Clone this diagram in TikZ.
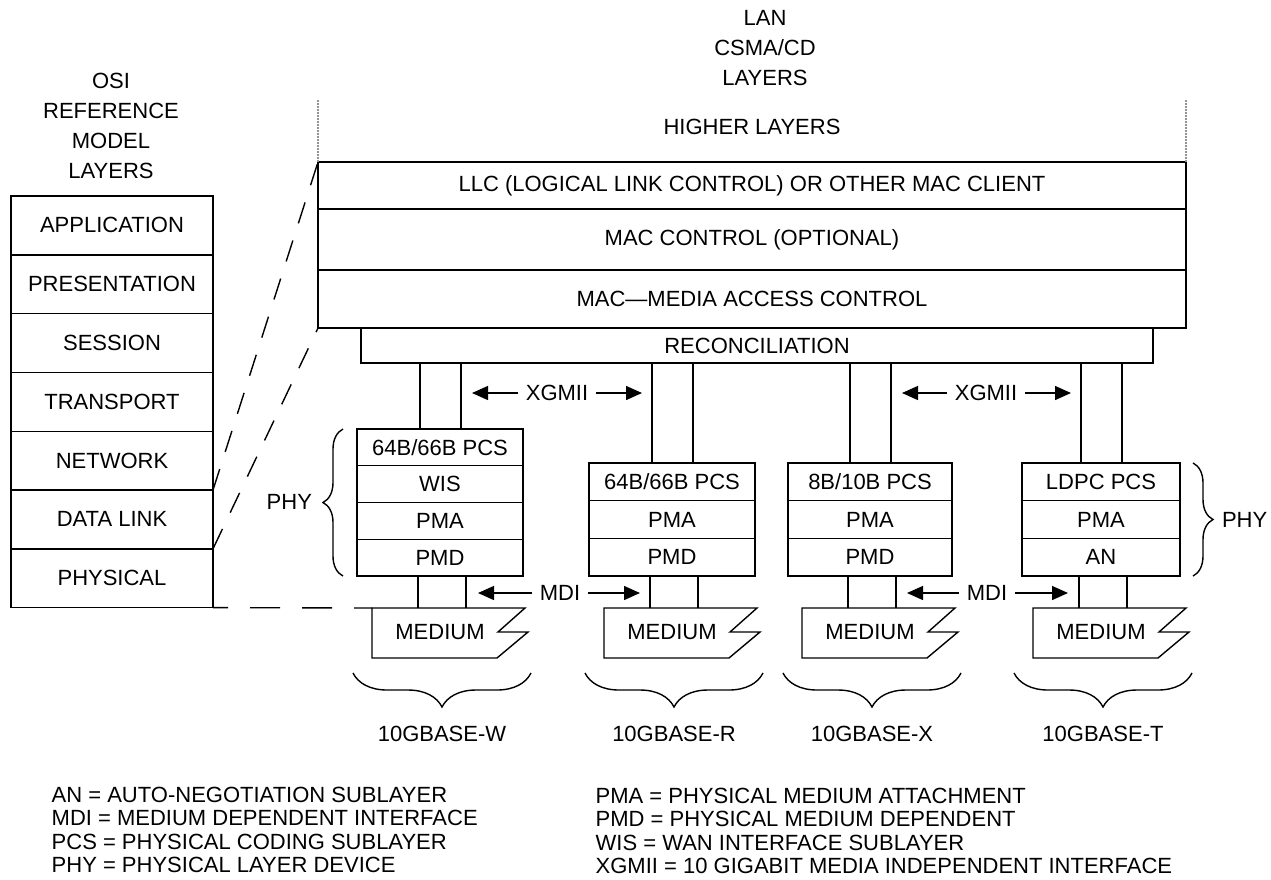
\documentclass[tikz,border=0pt]{standalone}
\usepackage{fontspec}
\setmainfont{Liberation Sans}
\usetikzlibrary{positioning,arrows.meta,decorations.pathreplacing}
\tikzset{
  lbl/.style={font=\fontsize{22}{26}\selectfont},
  head/.style={align=center, font=\fontsize{22}{30}\selectfont},
  osirow/.style={draw, lbl, minimum width=202pt, minimum height=58.8pt, inner sep=0pt, outer sep=0pt},
  lanrow/.style={draw, lbl, minimum width=868pt, inner sep=0pt, outer sep=0pt},
  phyrow/.style={draw, lbl, minimum width=166pt, minimum height=37.7pt, inner sep=0pt, outer sep=0pt},
  arr/.style={-{Triangle[length=16pt,width=14pt]}},
  brc/.style={decorate, decoration={brace, amplitude=#1}},
  osidash/.style={dash pattern=on 22pt off 18pt},
  hl/.style={gray!85, line width=2pt, dash pattern=on 2pt off 1pt},
  legend/.style={font=\fontsize{22}{26}\selectfont, anchor=west, inner sep=0pt},
}
\begin{document}
\begin{tikzpicture}[x=1pt, y=-1pt, line width=1.4pt]
\useasboundingbox (0,0) rectangle (1271,879);

% headings
\node[head] (osihead) at (111,126) {OSI\\REFERENCE\\MODEL\\LAYERS};
\node[head] (lanhead) at (765,48) {LAN\\CSMA/CD\\LAYERS};

% OSI stack
\foreach \lab [count=\i from 0] in {APPLICATION,PRESENTATION,SESSION,TRANSPORT,NETWORK,DATA LINK,PHYSICAL}
  \node[osirow] (osi\i) at (112,{225.4+58.8*\i}) {\lab};

% LAN stack
\node[lbl] (higher) at (752,127) {HIGHER LAYERS};
\node[lanrow, minimum height=47pt] (llc) at (752,185.5) {LLC (LOGICAL LINK CONTROL) OR OTHER MAC CLIENT};
\node[lanrow, minimum height=61pt, below=0pt of llc] (macc) {MAC CONTROL (OPTIONAL)};
\node[lanrow, minimum height=58pt, below=0pt of macc] (mac) {MAC—MEDIA ACCESS CONTROL};
\node[draw, lbl, minimum width=792pt, minimum height=35pt, inner sep=0pt, outer sep=0pt, anchor=north west] (rec) at ([xshift=43pt]mac.south west) {RECONCILIATION};
\coordinate (hlL) at (318,100);
\coordinate (hlR) at (1186,100);
\draw[hl] (hlL) -- (llc.north west);
\draw[hl] (hlR) -- (llc.north east);

% OSI to LAN
\draw[osidash] (osi4.south east) -- (llc.north west);
\draw[osidash] (osi5.south east) -- (mac.south west);

% PHY stacks
\node[phyrow, minimum height=36.75pt] (w1) at (440,447.4) {64B/66B PCS};
\node[phyrow, minimum height=36.75pt, below=0pt of w1] (w2) {WIS};
\node[phyrow, minimum height=36.75pt, below=0pt of w2] (w3) {PMA};
\node[phyrow, minimum height=36.75pt, below=0pt of w3] (w4) {PMD};

\node[phyrow] (r1) at (672,481.8) {64B/66B PCS};
\node[phyrow, below=0pt of r1] (r2) {PMA};
\node[phyrow, below=0pt of r2] (r3) {PMD};

\node[phyrow, minimum width=164pt] (x1) at (870,481.8) {8B/10B PCS};
\node[phyrow, minimum width=164pt, below=0pt of x1] (x2) {PMA};
\node[phyrow, minimum width=164pt, below=0pt of x2] (x3) {PMD};

\node[phyrow, minimum width=158pt] (t1) at (1101,481.8) {LDPC PCS};
\node[phyrow, minimum width=158pt, below=0pt of t1] (t2) {PMA};
\node[phyrow, minimum width=158pt, below=0pt of t2] (t3) {AN};

% XGMII lines
\foreach \s in {w1,r1,x1,t1} {
  \draw ([xshift=-20pt]\s.north) -- ([xshift=-20pt]\s.north |- rec.south);
  \draw ([xshift=21pt]\s.north) -- ([xshift=21pt]\s.north |- rec.south);
}
\node[lbl] (xg1) at (557,393) {XGMII};
\draw[arr] ([xshift=-4pt]xg1.west) -- ([xshift=32pt]w1.north |- xg1.west);
\draw[arr] ([xshift=4pt]xg1.east) -- ([xshift=-30pt]r1.north |- xg1.east);
\node[lbl] (xg2) at (986,393) {XGMII};
\draw[arr] ([xshift=-4pt]xg2.west) -- ([xshift=32pt]x1.north |- xg2.west);
\draw[arr] ([xshift=4pt]xg2.east) -- ([xshift=-30pt]t1.north |- xg2.east);

% media, MDI lines and braces
\foreach \c/\nm/\s/\lab in {442/mw/w4/10GBASE-W,674/mr/r3/10GBASE-R,872/mx/x3/10GBASE-X,1103/mt/t3/10GBASE-T} {
  \coordinate (\nm-tl) at ({\c-70},608);
  \draw (\nm-tl) -- ++(153,0) -- ++(-27,24) -- ++(30,0) -- ++(-31,26) -- ({\c-70},658) -- cycle;
  \node[lbl] (\nm) at ({\c-2},632) {MEDIUM};
  \draw ([xshift=-22pt]\s.south) -- ([xshift=-22pt]\s.south |- \nm-tl);
  \draw ([xshift=26pt]\s.south) -- ([xshift=26pt]\s.south |- \nm-tl);
  \draw[brc=34pt] ({\c+89},673) -- ({\c-89},673);
  \node[lbl] (\nm-lab) at (\c,734) {\lab};
}
\draw[dash pattern=on 30pt off 22pt, dash phase=15pt] (osi6.south east) -- (mw-tl);

\node[lbl] (mdi1) at (560,593) {MDI};
\draw[arr] ([xshift=-4pt]mdi1.west) -- ([xshift=38pt]w4.south |- mdi1.west);
\draw[arr] ([xshift=4pt]mdi1.east) -- ([xshift=-32pt]r3.south |- mdi1.east);
\node[lbl] (mdi2) at (987,593) {MDI};
\draw[arr] ([xshift=-4pt]mdi2.west) -- ([xshift=37pt]x3.south |- mdi2.west);
\draw[arr] ([xshift=4pt]mdi2.east) -- ([xshift=-33pt]t3.south |- mdi2.east);

% PHY braces
\draw[brc=20pt] ([xshift=-14pt]w4.south west) -- ([xshift=-14pt]w1.north west);
\node[lbl, anchor=east] (phyl) at (316,502) {PHY};
\draw[brc=20pt] ([xshift=13pt]t1.north east) -- ([xshift=13pt]t3.south east);
\node[lbl, anchor=west] (phyr) at (1218,520) {PHY};

% legend
\foreach \txt [count=\i] in {AN = AUTO-NEGOTIATION SUBLAYER,MDI = MEDIUM DEPENDENT INTERFACE,PCS = PHYSICAL CODING SUBLAYER,PHY = PHYSICAL LAYER DEVICE}
  \node[legend] (lgl\i) at (51,{771+23.5*\i}) {\txt};
\foreach \txt [count=\i] in {PMA = PHYSICAL MEDIUM ATTACHMENT,PMD = PHYSICAL MEDIUM DEPENDENT,WIS = WAN INTERFACE SUBLAYER,XGMII = 10 GIGABIT MEDIA INDEPENDENT INTERFACE}
  \node[legend] (lgr\i) at (595,{772+23.5*\i}) {\txt};
\end{tikzpicture}
\end{document}
